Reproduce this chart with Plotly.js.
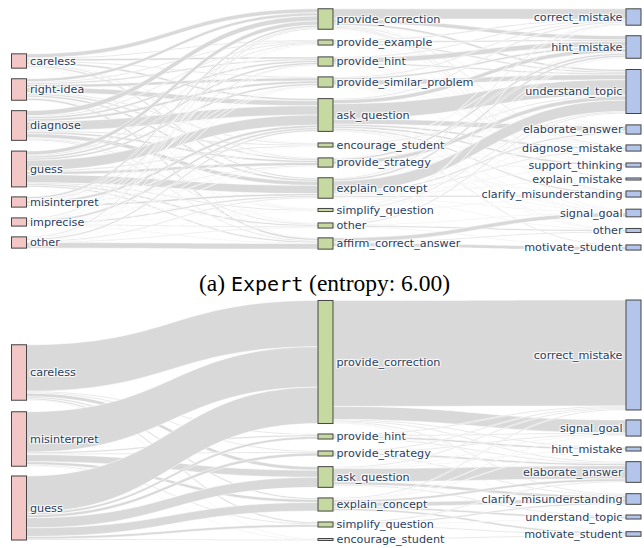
<!DOCTYPE html>
<html><head><meta charset="utf-8">
<script src="https://cdn.plot.ly/plotly-3.0.1.min.js"></script>
<style>html,body{margin:0;padding:0;background:#fff}</style>
</head><body><div id="chart" style="width:644px;height:548px"></div>
<script>
// ---------- DATA: (a) Expert ----------
const expertStates = ["careless","right-idea","diagnose","guess","misinterpret","imprecise","other"];
const expertStrategies = ["provide_correction","provide_example","provide_hint","provide_similar_problem","ask_question","encourage_student","provide_strategy","explain_concept","simplify_question","other","affirm_correct_answer"];
const expertIntentions = ["correct_mistake","hint_mistake","understand_topic","elaborate_answer","diagnose_mistake","support_thinking","explain_mistake","clarify_misunderstanding","signal_goal","other","motivate_student"];
// rows: states, cols: strategies
const expertStateToStrategy = [
  [4,   1,   2,   1,   2,   0.5, 1,   1.5, 0.3, 0.2, 0.5],
  [3,   1,   1.5, 3,   5,   1,   1.5, 2,   0.5, 0.5, 2  ],
  [5,   1,   2,   2.5, 9,   1,   2,   4,   0.5, 1,   1  ],
  [4,   1,   2,   2,   10,  1,   3,   8,   1,   1.5, 1.5],
  [2,   0.5, 1,   0.5, 2.5, 0.2, 0.8, 2,   0.3, 0.2, 0  ],
  [1,   0.3, 0.3, 0.5, 2,   0.2, 0.5, 1.5, 0.2, 1,   0.5],
  [1,   0.2, 0.2, 0.5, 1.5, 0.1, 0.2, 1,   0.2, 0.6, 5.5]
];
// rows: strategies, cols: intentions
const expertStrategyToIntention = [
  [10,  4,   2,   0.5, 1,   0,   1,   1,   0.5, 0,   0  ],
  [1,   1.5, 1.5, 0,   0.5, 0,   0,   0.5, 0,   0,   0  ],
  [1,   5,   1.5, 0,   0.5, 0.5, 0,   0.5, 0,   0,   0  ],
  [1,   2,   5,   0.5, 0.5, 0.5, 0,   0,   0.5, 0,   0  ],
  [1,   4,   15,  5,   2,   2,   0.5, 1.5, 0.5, 0.5, 0  ],
  [0,   0.5, 1,   0.5, 0,   0,   0,   0,   0.5, 0.5, 1  ],
  [0.5, 2,   4,   0.5, 0.5, 0.5, 0,   0.5, 0.5, 0,   0  ],
  [1,   2,   11,  1.5, 1,   0.5, 0.5, 1.5, 0.5, 0.5, 0  ],
  [0,   0.5, 1,   0.5, 0,   0,   0,   0.5, 0,   0,   0  ],
  [0.5, 0.5, 1,   0,   0,   0,   0,   0,   0.5, 1.5, 0.5],
  [0,   0,   0,   0,   0,   0,   0,   0,   4,   1,   3.5]
];

// ---------- DATA: (b) second model ----------
const modelStates = ["careless","misinterpret","guess"];
const modelStrategies = ["provide_correction","provide_hint","provide_strategy","ask_question","explain_concept","simplify_question","encourage_student"];
const modelIntentions = ["correct_mistake","signal_goal","hint_mistake","elaborate_answer","clarify_misunderstanding","understand_topic","motivate_student"];
const modelStateToStrategy = [
  [46, 1,   1, 3.5, 1.5, 1.5, 0.5],
  [40, 1.5, 1, 7,   3,   1,   0.5],
  [36, 2.5, 3, 10,  8.5, 2.5, 1  ]
];
const modelStrategyToIntention = [
  [105, 13,  1,   1,   1,   0.5, 0.5],
  [1,   1,   2,   1,   0,   0,   0  ],
  [1,   1,   0,   2,   1,   0,   0  ],
  [1,   0.5, 0.5, 13,  3,   1,   0  ],
  [1,   0.5, 0.5, 2.5, 4,   2,   2  ],
  [0,   0,   0,   1,   1.5, 0.5, 1  ],
  [0,   0,   0,   0,   0,   0,   1  ]
];

const captionA = '(a) <span style="font-family:\'DejaVu Sans Mono\';font-size:20px">Expert</span> (entropy: 6.00)';

// ---------- LAYOUT (positions / styles) ----------
const W = 644, H = 548;
const PINK = '#f4c7c7', GREEN = '#c6d9a0', BLUE = '#b4c5eb';
const colX = [19/W, 325.5/W, 633.5/W];
// pixel centres of nodes
const expertYpx = {
  top: 9, bottom: 250,
  left: [61, 89.5, 125.5, 169, 202, 222, 242.5],
  mid: [19, 42.5, 61.5, 82, 115, 145, 162.5, 188, 210, 225.5, 243.5],
  right: [17, 47, 91.5, 129.5, 148, 165, 179, 194, 213, 230.5, 247.5]
};
const modelYpx = {
  top: 301, bottom: 541,
  left: [372.5, 439, 508],
  mid: [362, 436.5, 453.5, 477, 504.5, 524.5, 539.5],
  right: [355, 428, 449, 472, 499, 517, 534]
};

function buildSankey(states, strategies, intentions, m1, m2, pos) {
  const labels = [...states, ...strategies, ...intentions];
  const nS = states.length, nM = strategies.length;
  const source = [], target = [], value = [];
  m1.forEach((row, i) => row.forEach((v, j) => { if (v > 0) { source.push(i); target.push(nS + j); value.push(v); } }));
  m2.forEach((row, i) => row.forEach((v, j) => { if (v > 0) { source.push(nS + i); target.push(nS + nM + j); value.push(v); } }));
  const colors = [...states.map(() => PINK), ...strategies.map(() => GREEN), ...intentions.map(() => BLUE)];
  const xs = [...states.map(() => colX[0]), ...strategies.map(() => colX[1]), ...intentions.map(() => colX[2])];
  const hpx = pos.bottom - pos.top;
  const ys = [...pos.left, ...pos.mid, ...pos.right].map(c => Math.max(0.001, (c - pos.top) / hpx));
  return {
    type: 'sankey',
    arrangement: 'fixed',
    domain: { x: [0, 1], y: [1 - pos.bottom / H, 1 - pos.top / H] },
    node: {
      label: labels, color: colors, x: xs, y: ys,
      pad: 11, thickness: 15,
      line: { color: '#444', width: 1 },
      hoverinfo: 'none'
    },
    link: {
      source, target, value,
      color: '#d9d9d9',
      line: { color: 'white', width: 0.5 },
      hoverinfo: 'none'
    },
    textfont: { family: 'DejaVu Sans', size: 11.2, color: '#2a3f5f' }
  };
}

const data = [
  buildSankey(expertStates, expertStrategies, expertIntentions, expertStateToStrategy, expertStrategyToIntention, expertYpx),
  buildSankey(modelStates, modelStrategies, modelIntentions, modelStateToStrategy, modelStrategyToIntention, modelYpx)
];

const layout = {
  width: W, height: H,
  margin: { l: 0, r: 0, t: 0, b: 0 },
  paper_bgcolor: '#fff',
  showlegend: false,
  annotations: [{
    text: captionA, xref: 'paper', yref: 'paper',
    x: 324.5 / W, y: 1 - 283 / H, xanchor: 'center', yanchor: 'middle',
    showarrow: false,
    font: { family: 'Liberation Serif', size: 23.5, color: '#000' }
  }]
};

Plotly.newPlot('chart', data, layout, { displayModeBar: false, staticPlot: true });
</script>
</body></html>
